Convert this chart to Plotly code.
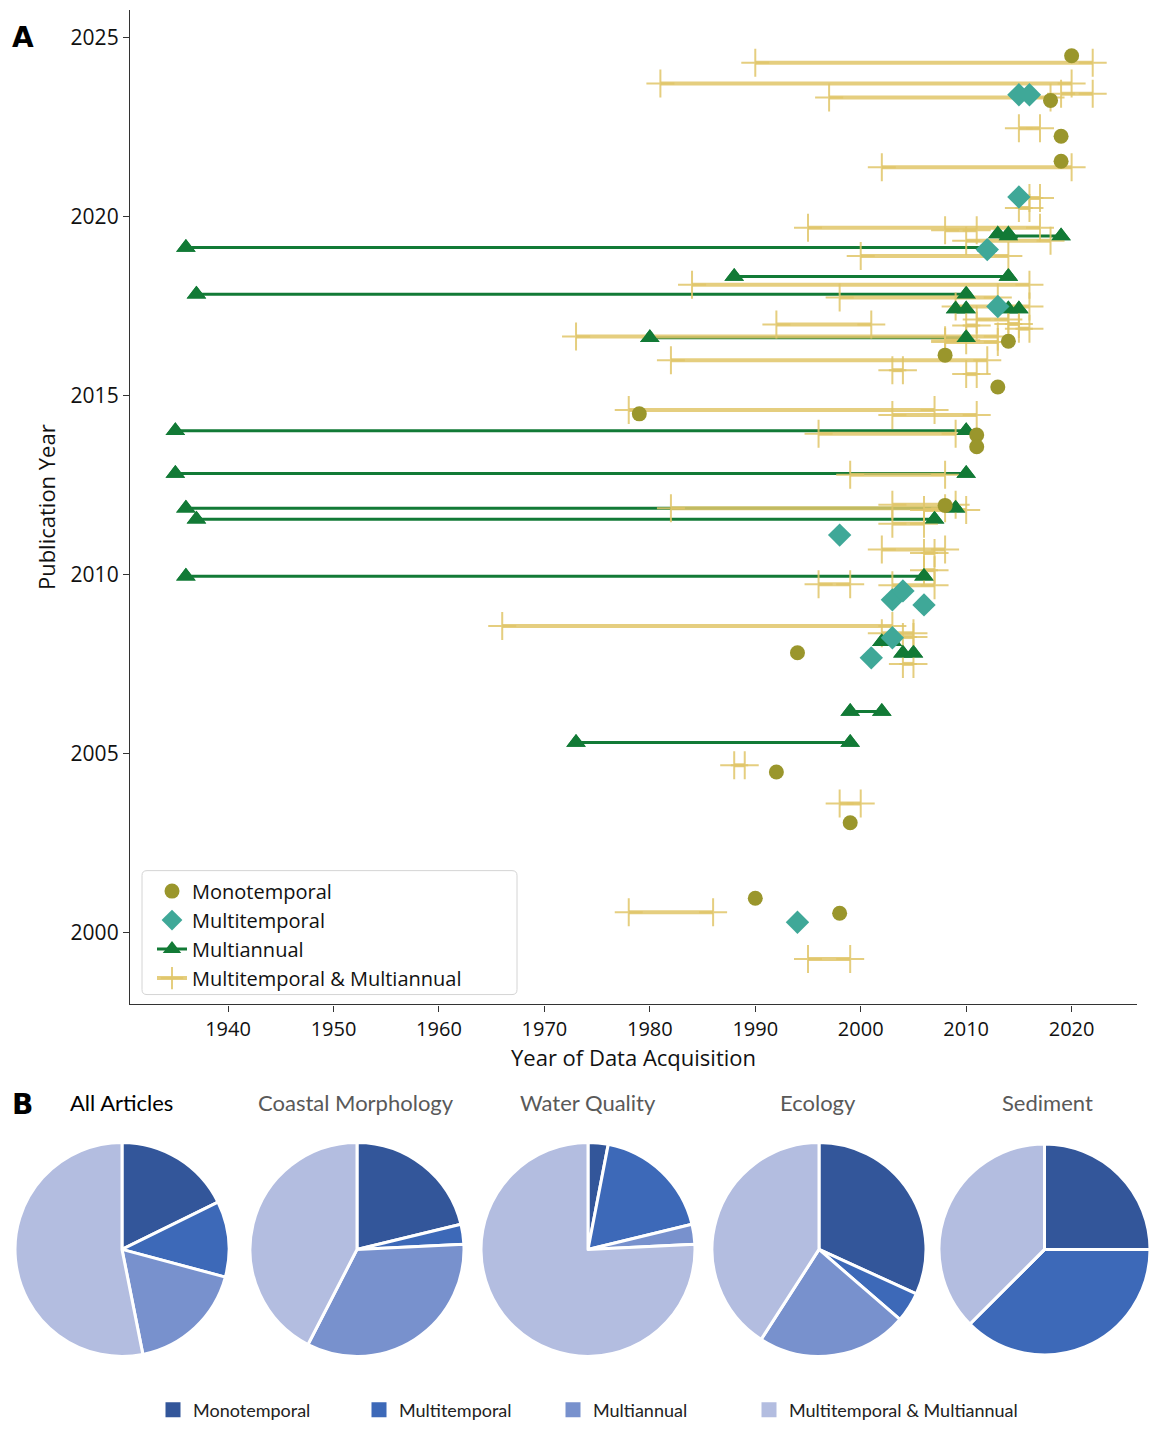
import plotly.graph_objects as go

# ---------------- Panel A data ----------------
# Monotemporal: acquisition year, publication year (jittered position)
mono_year = [2020, 2018, 2019, 2019, 2014, 2008, 2013, 1979, 2011, 2011, 2008, 1994, 1992, 1999, 1990, 1998]
mono_pub = [2024.5, 2023.25, 2022.25, 2021.55, 2016.52, 2016.13, 2015.24, 2014.49, 2013.9, 2013.57,
            2011.93, 2007.81, 2004.48, 2003.06, 2000.95, 2000.53]

# Multitemporal
mt_year = [2015, 2016, 2015, 2012, 2013, 1998, 2003, 2004, 2006, 2003, 2001, 1994]
mt_pub = [2023.41, 2023.41, 2020.55, 2019.08, 2017.49, 2011.1, 2009.29, 2009.54, 2009.15, 2008.23,
          2007.67, 2000.28]

# Multiannual: start, end, publication
ma_start = [1936, 2013, 2014, 1988, 1937, 2009, 2014, 1980, 1935, 1935, 1936, 1937, 1936, 2002, 2004, 1999, 1973]
ma_end = [2012, 2014, 2019, 2014, 2010, 2010, 2015, 2010, 2010, 2010, 2009, 2007, 2006, 2003, 2005, 2002, 1999]
ma_pub = [2019.14, 2019.52, 2019.46, 2018.33, 2017.83, 2017.42, 2017.42, 2016.62, 2014.02, 2012.82,
          2011.85, 2011.54, 2009.95, 2008.12, 2007.8, 2006.17, 2005.3]

# Multitemporal & Multiannual: start, end, publication
mm_start = [1990, 1981, 1997, 2019, 2015, 2002, 2016, 2015, 1995, 2008, 2010, 2000, 1984, 1998, 2009,
            2011, 2014, 1992, 2010, 2015, 1973, 2008, 2008, 1982, 2003, 2010, 1978, 2003, 1996, 1999,
            1982, 2003, 2006, 2003, 2002, 2006, 2006, 1996, 2003, 1966, 2002, 2004, 2004, 1988, 1998,
            1978, 1995]
mm_end = [2022, 2020, 2018, 2022, 2017, 2020, 2017, 2016, 2017, 2011, 2018, 2014, 2016, 2013, 2016,
          2014, 2015, 2001, 2011, 2016, 2013, 2013, 2010, 2012, 2004, 2011, 2007, 2011, 2009, 2008,
          2008, 2009, 2010, 2006, 2008, 2007, 2007, 1999, 2007, 2003, 2005, 2005, 2005, 1989, 2000,
          1986, 1999]
mm_pub = [2024.3, 2023.72, 2023.33, 2023.44, 2022.47, 2021.38, 2020.52, 2020.24, 2019.69, 2019.62,
          2019.33, 2018.9, 2018.1, 2017.74, 2017.49, 2017.13, 2017.0, 2016.99, 2016.96, 2016.87,
          2016.65, 2016.5, 2016.55, 2015.99, 2015.71, 2015.6, 2014.6, 2014.46, 2013.93, 2012.79,
          2011.85, 2011.95, 2011.8, 2011.42, 2010.7, 2010.6, 2010.12, 2009.73, 2009.7, 2008.56,
          2008.36, 2008.25, 2007.5, 2004.67, 2003.6, 2000.56, 1999.25]

x_ticks = [1940, 1950, 1960, 1970, 1980, 1990, 2000, 2010, 2020]
y_ticks = [2000, 2005, 2010, 2015, 2020, 2025]

# ---------------- Panel B data ----------------
pie_labels = ["Monotemporal", "Multitemporal", "Multiannual", "Multitemporal & Multiannual"]
pie_titles = ["All Articles", "Coastal Morphology", "Water Quality", "Ecology", "Sediment"]
pie_all = [17, 11, 17, 51]
pie_coastal = [7, 1, 11, 14]
pie_water = [1, 6, 1, 25]
pie_ecology = [7, 1, 5, 9]
pie_sediment = [2, 3, 0, 3]
pie_values = [pie_all, pie_coastal, pie_water, pie_ecology, pie_sediment]

# ---------------- styles ----------------
W, H = 1150, 1429
C_MONO = "#9a962c"
C_MT = "#3fa898"
C_MA = "#127a36"
C_MM = "rgba(224,198,104,0.85)"
PIE_COLORS = ["#33569a", "#3d69b8", "#7891cd", "#b3bde0"]
FONT = "Open Sans"


def py(px):
    """pixel row (from top) -> paper fraction"""
    return (H - px) / H


def segs(starts, ends, pubs):
    xs, ys = [], []
    for s, e, p in zip(starts, ends, pubs):
        xs += [s, e, None]
        ys += [p, p, None]
    return xs, ys


fig = go.Figure()

ma_x, ma_y = segs(ma_start, ma_end, ma_pub)
mm_x, mm_y = segs(mm_start, mm_end, mm_pub)

fig.add_trace(go.Scatter(x=ma_x, y=ma_y, mode="lines+markers", name="Multiannual",
                         line=dict(color=C_MA, width=3),
                         marker=dict(symbol="triangle-up", size=17, color=C_MA),
                         legendrank=3, legend="legend"))
fig.add_trace(go.Scatter(x=mm_x, y=mm_y, mode="lines+markers", name="Multitemporal & Multiannual",
                         line=dict(color=C_MM, width=4),
                         marker=dict(symbol="cross-thin", size=20, color=C_MM,
                                     line=dict(color=C_MM, width=2)),
                         legendrank=4, legend="legend"))
fig.add_trace(go.Scatter(x=ma_x, y=ma_y, mode="markers", showlegend=False,
                         marker=dict(symbol="triangle-up", size=17, color=C_MA)))
fig.add_trace(go.Scatter(x=mono_year, y=mono_pub, mode="markers", name="Monotemporal",
                         marker=dict(symbol="circle", size=15, color=C_MONO),
                         legendrank=1, legend="legend"))
fig.add_trace(go.Scatter(x=mt_year, y=mt_pub, mode="markers", name="Multitemporal",
                         marker=dict(symbol="diamond", size=18, color=C_MT),
                         legendrank=2, legend="legend"))

# pies
pie_centers = [122, 357, 588, 819, 1046]
R = 107
yc = 1260
for i, (vals, cx) in enumerate(zip(pie_values, pie_centers)):
    x0 = max(0.0, (cx - R) / W)
    x1 = min(1.0, (cx + R) / W)
    fig.add_trace(go.Pie(labels=pie_labels, values=vals, sort=False, direction="clockwise",
                         rotation=0, textinfo="none",
                         marker=dict(colors=PIE_COLORS, line=dict(color="white", width=3)),
                         domain=dict(x=[x0, x1], y=[py(yc + R + 1), py(yc - R - 1)]),
                         showlegend=False, name=pie_titles[i]))

# legend keys for the pie categories (one small legend each, along the bottom)
key_x = [153, 359, 553, 749]
legend_defs = {}
for k, (lab, col, kx) in enumerate(zip(pie_labels, PIE_COLORS, key_x)):
    lname = "legend%d" % (k + 2)
    fig.add_trace(go.Scatter(x=[None], y=[None], mode="markers", name=lab,
                             marker=dict(symbol="square", size=15, color=col),
                             legend=lname, showlegend=True))
    legend_defs[lname] = dict(orientation="h", x=kx / W, y=py(1422),
                              xanchor="left", yanchor="middle",
                              font=dict(size=18, family="Lato", color="#222"),
                              bgcolor="rgba(0,0,0,0)")

annotations = [
    dict(text="<b>A</b>", x=10 / W, y=py(38), xref="paper", yref="paper",
         xanchor="left", yanchor="middle", showarrow=False,
         font=dict(family="DejaVu Sans", size=28, color="black")),
    dict(text="<b>B</b>", x=10 / W, y=py(1114), xref="paper", yref="paper",
         xanchor="left", yanchor="middle", showarrow=False,
         font=dict(family="DejaVu Sans", size=28, color="black")),
    dict(text="Year of Data Acquisition", x=633 / W, y=py(1066), xref="paper", yref="paper",
         xanchor="center", yanchor="middle", showarrow=False,
         font=dict(family=FONT, size=22, color="#111")),
]
title_x = [121, 356, 588, 818, 1047]
for t, tx in zip(pie_titles, title_x):
    annotations.append(dict(text=t, x=tx / W, y=py(1112), xref="paper", yref="paper",
                            xanchor="center", yanchor="middle", showarrow=False,
                            font=dict(family="Lato", size=22,
                                      color="black" if t == "All Articles" else "#595959")))

# rounded frame behind the scatter legend
lx0, lx1, ly0, ly1, rr = 142 / W, 517 / W, py(1003), py(878), 5
rx, ry = rr / W, rr / H
frame_path = (f"M {lx0 + rx},{ly1} L {lx1 - rx},{ly1} Q {lx1},{ly1} {lx1},{ly1 - ry} "
              f"L {lx1},{ly0 + ry} Q {lx1},{ly0} {lx1 - rx},{ly0} L {lx0 + rx},{ly0} "
              f"Q {lx0},{ly0} {lx0},{ly0 + ry} L {lx0},{ly1 - ry} Q {lx0},{ly1} {lx0 + rx},{ly1} Z")

fig.update_layout(
    width=W, height=H,
    margin=dict(l=0, r=0, t=0, b=0),
    paper_bgcolor="white", plot_bgcolor="white",
    font=dict(family=FONT, color="#111"),
    xaxis=dict(domain=[130 / W, 1137 / W], range=[1930.7, 2026.2],
               tickmode="array", tickvals=x_ticks, ticks="outside", ticklen=6,
               tickcolor="#333", showline=True, linecolor="#333", linewidth=1.3,
               showgrid=False, zeroline=False,
               tickfont=dict(size=20, family=FONT, color="#111")),
    yaxis=dict(domain=[py(1013), py(10)], range=[1997.98, 2025.78],
               tickmode="array", tickvals=y_ticks, ticks="outside", ticklen=6,
               tickcolor="#333", showline=True, linecolor="#333", linewidth=1.3,
               showgrid=False, zeroline=False,
               tickfont=dict(size=21, family=FONT, color="#111"),
               title=dict(text="Publication Year", font=dict(size=22, family=FONT), standoff=8)),
    legend=dict(x=152 / W, y=py(879), xanchor="left", yanchor="top",
                bgcolor="rgba(255,255,255,0)", borderwidth=0,
                font=dict(size=20, family=FONT, color="#111"), tracegroupgap=0,
                traceorder="normal"),
    shapes=[dict(type="path", path=frame_path, xref="paper", yref="paper",
                 fillcolor="rgba(255,255,255,0.9)", line=dict(color="#d4d4d4", width=1),
                 layer="above")],
    annotations=annotations,
    **legend_defs,
)

fig.write_html("out.html", config={"displayModeBar": False},
               post_script="document.body.style.margin='0';")
